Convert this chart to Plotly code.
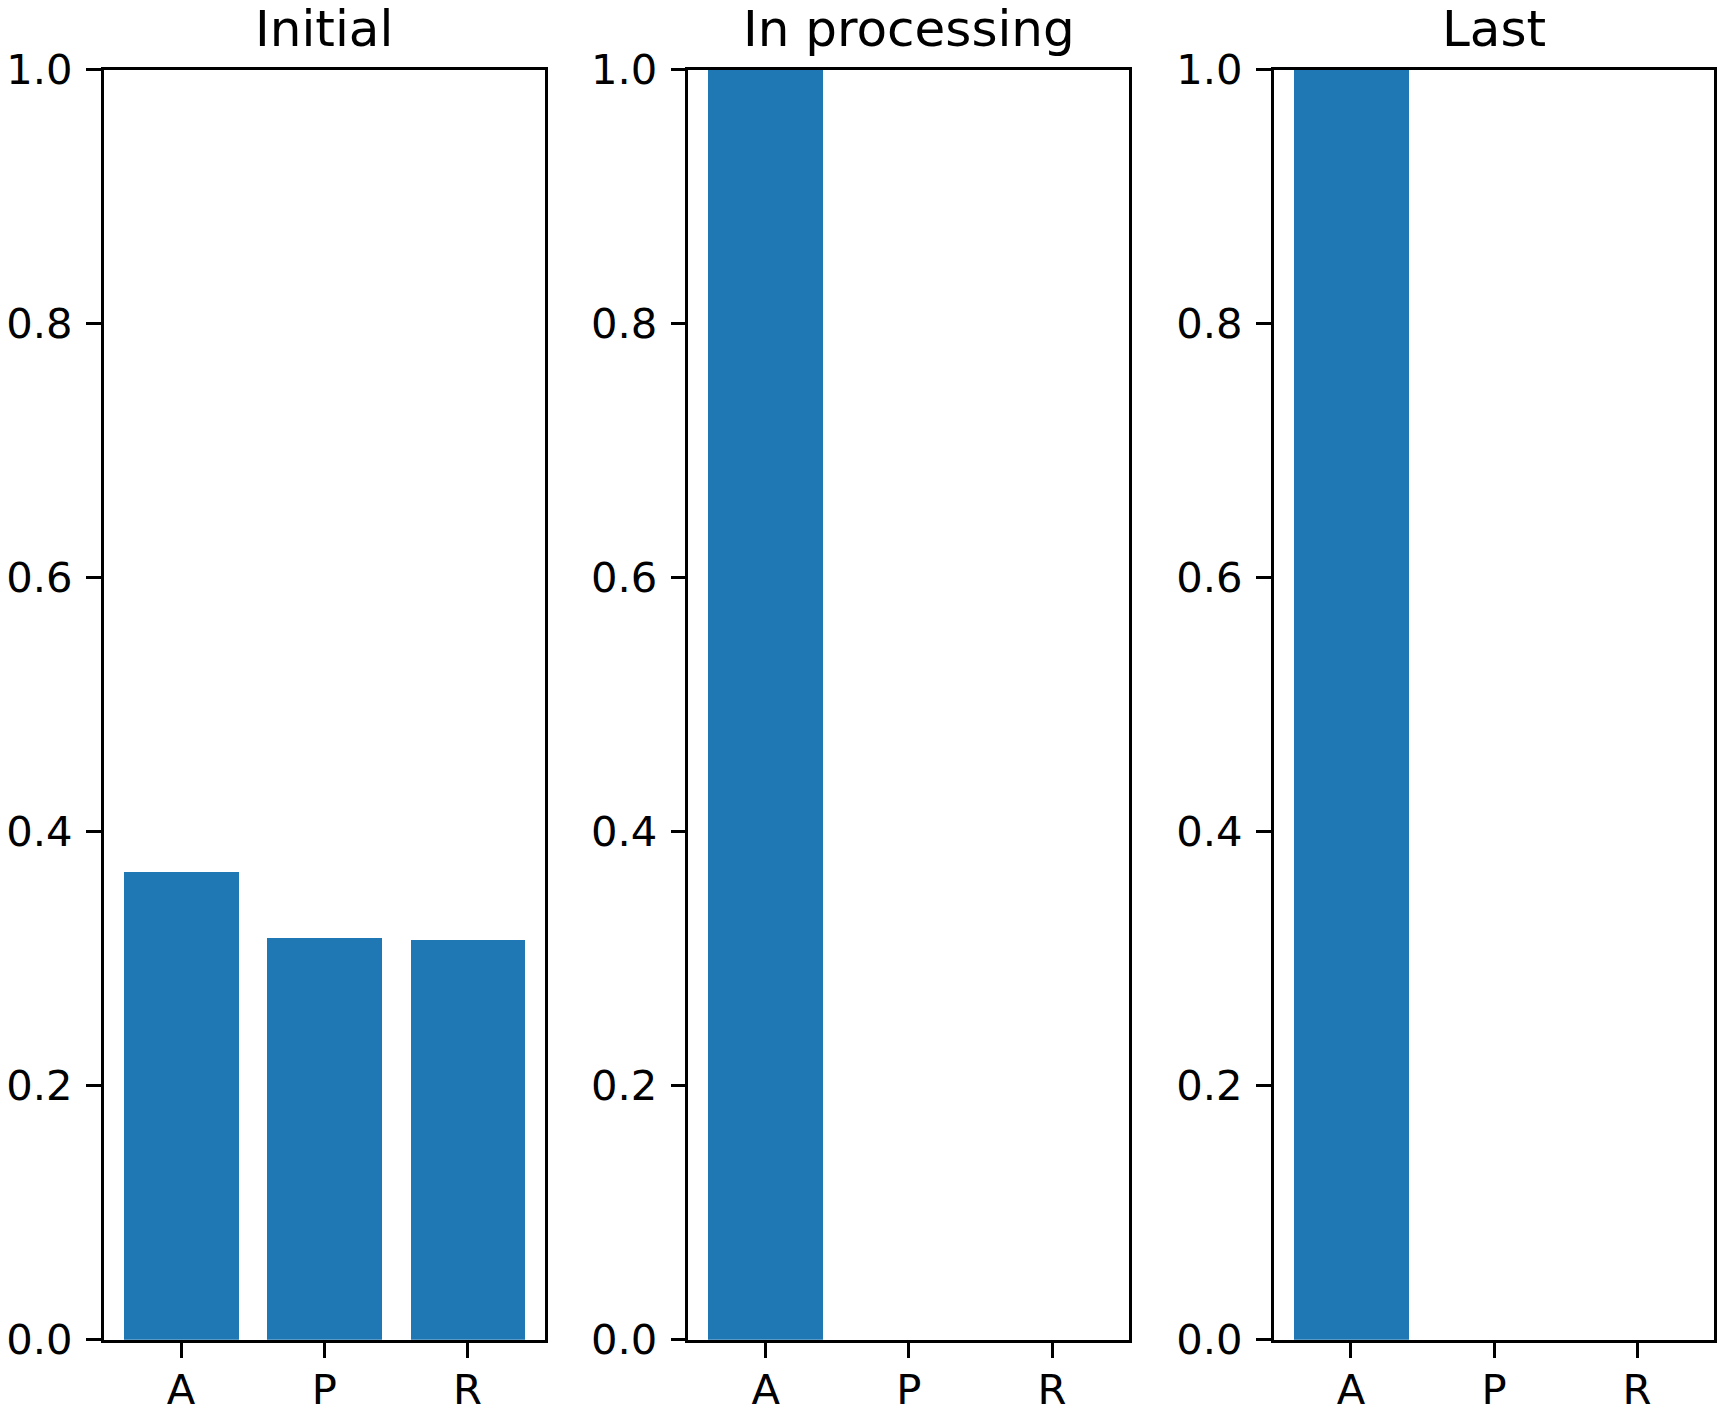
import plotly.graph_objects as go

categories = ["A", "P", "R"]
panel_titles = ["Initial", "In processing", "Last"]
initial_vals = [0.3684, 0.3166, 0.3150]
processing_vals = [1.0, 0.0, 0.0]
last_vals = [1.0, 0.0, 0.0]
ytick_vals = [0.0, 0.2, 0.4, 0.6, 0.8, 1.0]

W, H = 1722, 1418
lw = 3.3
half = lw / 2  # plotly draws axis lines just outside the domain
series = [initial_vals, processing_vals, last_vals]
px_x = [(102, 546.5), (686.7, 1131), (1272, 1716)]
x_domains = [((a + half) / W, (b - half) / W) for a, b in px_x]
y_domain = (1 - (1341.5 - half) / H, 1 - (68 + half) / H)

font_family = "DejaVu Sans"
tick_font = 41.7
title_font = 50

fig = go.Figure()
for i, vals in enumerate(series):
    suffix = "" if i == 0 else str(i + 1)
    fig.add_trace(go.Bar(
        x=[0, 1, 2], y=vals, width=0.8,
        marker=dict(color="#1f77b4", line=dict(width=0)),
        xaxis="x" + suffix, yaxis="y" + suffix, showlegend=False,
    ))
    common = dict(
        showline=True, linecolor="black", linewidth=lw, mirror=True,
        ticks="outside", ticklen=14.6, tickwidth=lw, tickcolor="black",
        showgrid=False, zeroline=False, automargin=False,
        tickfont=dict(family=font_family, size=tick_font, color="black"),
    )
    fig.layout["xaxis" + suffix] = dict(
        domain=list(x_domains[i]), range=[-0.54, 2.54],
        tickmode="array", tickvals=[0, 1, 2], ticktext=categories,
        anchor="y" + suffix, ticklabelstandoff=-4, **common,
    )
    fig.layout["yaxis" + suffix] = dict(
        domain=list(y_domain), range=[0, 1],
        tickmode="array", tickvals=ytick_vals,
        ticktext=[f"{v:.1f}" for v in ytick_vals],
        anchor="x" + suffix, ticklabelstandoff=5, **common,
    )
    fig.add_annotation(
        text=panel_titles[i], xref="paper", yref="paper",
        x=(x_domains[i][0] + x_domains[i][1]) / 2, y=1 - 60 / H,
        xanchor="center", yanchor="bottom", showarrow=False,
        font=dict(family=font_family, size=title_font, color="black"),
    )

fig.update_layout(
    width=W, height=H, autosize=False,
    margin=dict(l=0, r=0, t=0, b=0, pad=0),
    paper_bgcolor="white", plot_bgcolor="white",
    bargap=0,
)
# remove the default page margin so the figure fills the window exactly
fig.write_html(
    "out.html",
    config={"displayModeBar": False},
    post_script="document.body.style.margin='0px';"
                "document.documentElement.style.overflow='hidden';",
)
